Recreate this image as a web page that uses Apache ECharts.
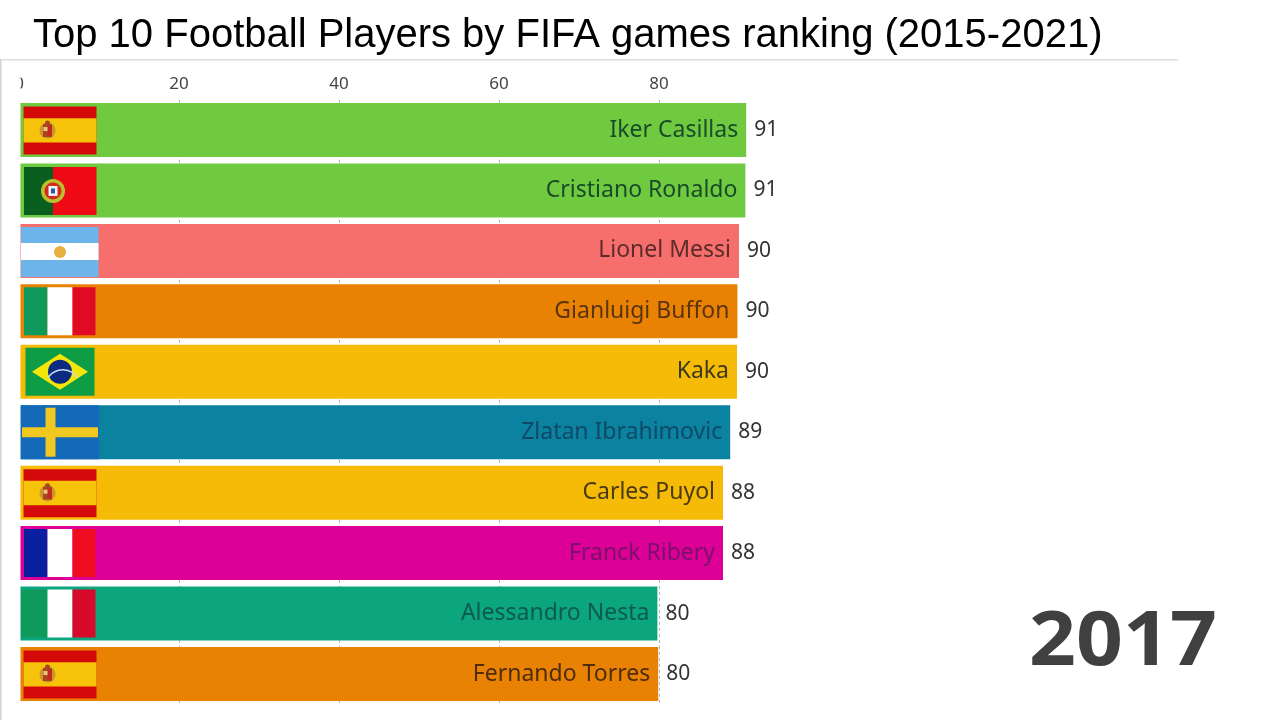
<!DOCTYPE html>
<html><head><meta charset="utf-8">
<style>html,body{margin:0;padding:0;background:#fff}#c{width:1280px;height:720px}</style>
<script src="https://cdn.jsdelivr.net/npm/echarts@6/dist/echarts.min.js"></script>
</head><body><div id="c"></div>
<script>
const players=['Iker Casillas','Cristiano Ronaldo','Lionel Messi','Gianluigi Buffon','Kaka','Zlatan Ibrahimovic','Carles Puyol','Franck Ribery','Alessandro Nesta','Fernando Torres'];
const barLengths=[90.9,90.8,90,89.8,89.75,88.9,88,88,79.8,79.9];
const valueLabels=[91,91,90,90,90,89,88,88,80,80];
const flags=['spain','portugal','argentina','italy','brazil','sweden','spain','france','italy2','spain'];
const barColors=['#6fca40','#6fca40','#f76f6c','#e98203','#f5bb06','#0a82a0','#f5bb06','#dc0096','#0ca67e','#e98203'];
const textColors=['#1a4a28','#1a4a28','#5c2b2c','#5a3410','#3e3a1c','#0e4a68','#4a3a14','#78106c','#0e5a50','#4e2c0c'];
const tickValues=[0,20,40,60,80];
const title='Top 10 Football Players by FIFA games ranking (2015-2021)';
const year='2017';

function r(x,y,w,h,fill){return {type:'rect',shape:{x,y,width:w,height:h},style:{fill}};}
function circ(cx,cy,rad,fill){return {type:'circle',shape:{cx,cy,r:rad},style:{fill}};}
function drawFlag(kind,x0,cy){
  const X=d=>x0+d, out=[];
  if(kind==='spain'){
    out.push(r(X(4.5),cy-23.5,73,48,'#d40a0a'),r(X(4.5),cy-11.8,73,24.4,'#f6c20a'));
    out.push(circ(X(28.5),cy+0.5,8,'#c8962e'),r(X(24),cy-6,9,13,'#a8461e'),r(X(28.5),cy-4,4.5,10,'#c8281c'),r(X(24.5),cy-3,4,4,'#e8c878'),circ(X(28.5),cy-7,2.5,'#a8461e'));
  } else if(kind==='portugal'){
    out.push(r(X(5),cy-23.5,29,48,'#0b5f1e'),r(X(34),cy-23.5,38.5+5,48,'#ee0a14'));
    out.push(circ(X(34),cy+0.5,12,'#b8c030'),circ(X(34),cy+0.5,8.5,'#d42a1c'),r(X(29.5),cy-4.5,9,10,'#f4f4f4'),r(X(32),cy-2,4,5,'#2a56b0'));
  } else if(kind==='argentina'){
    out.push(r(X(2),cy-24,77.5,50,'#6cb4ea'),r(X(2),cy-8,77.5,17,'#ffffff'),circ(X(41),cy+1,6,'#e8b040'));
  } else if(kind==='italy'||kind==='italy2'||kind==='france'){
    const c=kind==='france'?['#0a1ea0','#f00c20']:kind==='italy'?['#0f9a5c','#e00a24']:['#0f9a5c','#d80a2c'];
    const left=kind==='italy2'?2:5;
    out.push(r(X(left),cy-24,28.5-left,48,c[0]),r(X(28.5),cy-24,25,48,'#ffffff'),r(X(53.5),cy-24,23,48,c[1]));
  } else if(kind==='brazil'){
    out.push(r(X(6.5),cy-24,69,48,'#0e9c45'));
    out.push({type:'polygon',shape:{points:[[X(13),cy],[X(41),cy-18],[X(69),cy],[X(41),cy+18]]},style:{fill:'#f5e60a'}});
    out.push(circ(X(41),cy,12,'#0c2a80'));
    out.push({type:'arc',shape:{cx:X(44),cy:cy+16,r:18,startAngle:-2.6,endAngle:-0.6},style:{stroke:'#c8dcf0',fill:null,lineWidth:1.5}});
  } else if(kind==='sweden'){
    out.push(r(X(2),cy-27,78,54,'#1469b8'),r(X(26.5),cy-24.5,10,49,'#f0c820'),r(X(3),cy-5,76,10,'#f0c820'));
  }
  return out;
}
const chart=echarts.init(document.getElementById('c'),null,{renderer:'canvas'});
chart.setOption({
  animation:false,
  backgroundColor:'#ffffff',
  grid:{left:19,top:99.8,width:800,height:604.4,containLabel:false},
  xAxis:{type:'value',position:'top',min:0,max:100,
    axisLine:{show:false},axisTick:{show:false,customValues:tickValues},
    axisLabel:{customValues:tickValues,margin:7,fontFamily:'Noto Sans',fontSize:17,color:'#444'},
    splitLine:{show:true,lineStyle:{color:'#a9b4bd',width:1,type:[3,3]}}},
  yAxis:{type:'category',inverse:true,data:players,show:false},
  series:[
    {type:'bar',barWidth:54,silent:true,z:2,
     data:barLengths.map((v,i)=>({value:v,itemStyle:{color:barColors[i]},
       label:{color:textColors[i]}})),
     label:{show:true,position:'insideRight',distance:8,fontFamily:'Noto Sans',fontSize:23,
       formatter:p=>players[p.dataIndex]}},
    {type:'bar',barWidth:54,barGap:'-100%',silent:true,z:3,
     data:barLengths.slice(),itemStyle:{color:'rgba(0,0,0,0)'},
     label:{show:true,position:'right',distance:8,fontFamily:'Noto Sans',fontSize:21,color:'#333',
       formatter:p=>String(valueLabels[p.dataIndex])}},
    {type:'custom',z:4,silent:true,clip:false,
     data:flags.map((f,i)=>[0,i]),
     encode:{x:0,y:1},
     renderItem:(params,api)=>{
       const c=api.coord([0,api.value(1)]);
       return {type:'group',children:drawFlag(flags[params.dataIndex],c[0],c[1])};
     }}
  ],
  graphic:[
    {type:'rect',z:100,shape:{x:2,y:62,width:18.5,height:650},style:{fill:'#fff'}},
    {type:'rect',z:101,shape:{x:0,y:59,width:1178,height:1.5},style:{fill:'#dddddd'}},
    {type:'rect',z:101,shape:{x:0,y:59,width:1.5,height:661},style:{fill:'#d4d4d4'}},
    {type:'text',z:102,style:{x:33,y:36,text:title,fill:'#000',font:'40px "Liberation Sans"',textVerticalAlign:'middle',textBaseline:'middle'}},
    {type:'text',z:102,x:1123,y:643,scaleX:1.08,style:{x:0,y:0,text:year,fill:'#404040',font:'bold 76px "Noto Sans"',textAlign:'center',textVerticalAlign:'middle',textBaseline:'middle'}}
  ]
});
</script></body></html>
